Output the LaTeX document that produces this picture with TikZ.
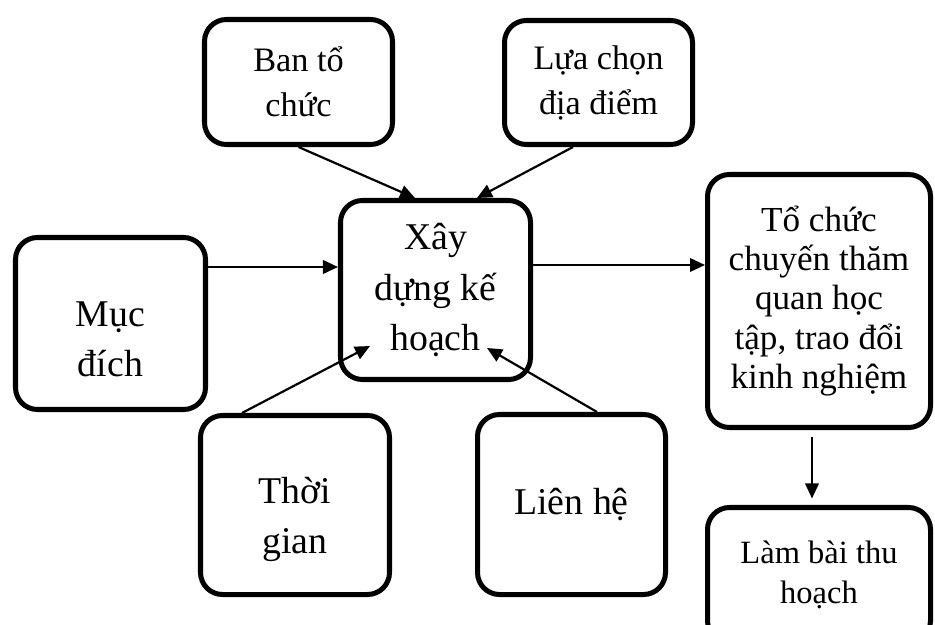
\documentclass[tikz,border=0pt]{standalone}
\usepackage{fontspec}
\setmainfont{Liberation Serif}
\usetikzlibrary{arrows.meta}
\tikzset{
  box/.style={draw, line width=2.85pt, rounded corners=12.5pt, align=center,
    inner sep=2pt},
  arr/.style={-{Triangle[length=0.3cm,width=0.27cm]}, line width=1.25pt}
}
\newcommand{\BoxBig}{\fontsize{21.5}{28.5}\selectfont}
\newcommand{\BoxMid}{\fontsize{19.5}{25.6}\selectfont}
\newcommand{\BoxSmall}{\fontsize{20}{22.4}\selectfont}
\newcommand{\BoxTiny}{\fontsize{18.5}{22.8}\selectfont}
\begin{document}
\begin{tikzpicture}
\useasboundingbox (0,0) rectangle (18.7,-12.5);
\node[box, minimum width=3.76cm, minimum height=2.5cm, font=\BoxMid] (ban) at (5.97,-1.64) {Ban tổ\\chức};
\node[box, minimum width=3.76cm, minimum height=2.48cm, font=\BoxMid] (diadiem) at (11.97,-1.65) {Lựa chọn\\địa điểm};
\node[box, minimum width=3.8cm, minimum height=3.58cm, font=\BoxBig] (kehoach) at (8.71,-5.8) {Xây\\dựng kế\\hoạch};
\node[box, minimum width=3.8cm, minimum height=3.44cm, font=\BoxBig] (mucdich) at (2.21,-6.47) {\rule{0pt}{32pt}Mục\\đích};
\node[box, minimum width=4.46cm, minimum height=5.06cm, font=\BoxSmall] (chuyen) at (16.38,-6.02) {Tổ chức\\chuyến thăm\\quan học\\tập, trao đổi\\kinh nghiệm};
\node[box, minimum width=3.78cm, minimum height=3.58cm, font=\BoxBig] (thoigian) at (5.9,-10.1) {\rule{0pt}{31pt}Thời\\gian};
\node[box, minimum width=3.76cm, minimum height=3.6cm, font=\BoxBig] (lienhe) at (11.43,-10.09) {Liên hệ};
\node[box, minimum width=4.46cm, minimum height=2.7cm, font=\BoxTiny] (thuhoach) at (16.38,-11.5) {Làm bài thu\\hoạch};

\path[arr] (ban.south) edge ([xshift=-0.41cm]kehoach.north);
\path[arr] ([xshift=-0.51cm]diadiem.south) edge ([xshift=0.83cm]kehoach.north);
\path[arr] ([yshift=1.13cm]mucdich.east) edge ([yshift=0.46cm]kehoach.west);
\path[arr] ([yshift=0.5cm]kehoach.east) edge ([yshift=0.72cm]chuyen.west);
\path[arr] ([xshift=-1.06cm]thoigian.north) edge ([xshift=-1.31cm,yshift=-1.12cm]kehoach.center);
\path[arr] ([xshift=0.51cm]lienhe.north) edge ([xshift=1.03cm,yshift=-1.16cm]kehoach.center);
\path[arr, shorten <=0.13cm, shorten >=0.13cm] ([xshift=-0.14cm]chuyen.south) edge ([xshift=-0.14cm]thuhoach.north);
\end{tikzpicture}
\end{document}
